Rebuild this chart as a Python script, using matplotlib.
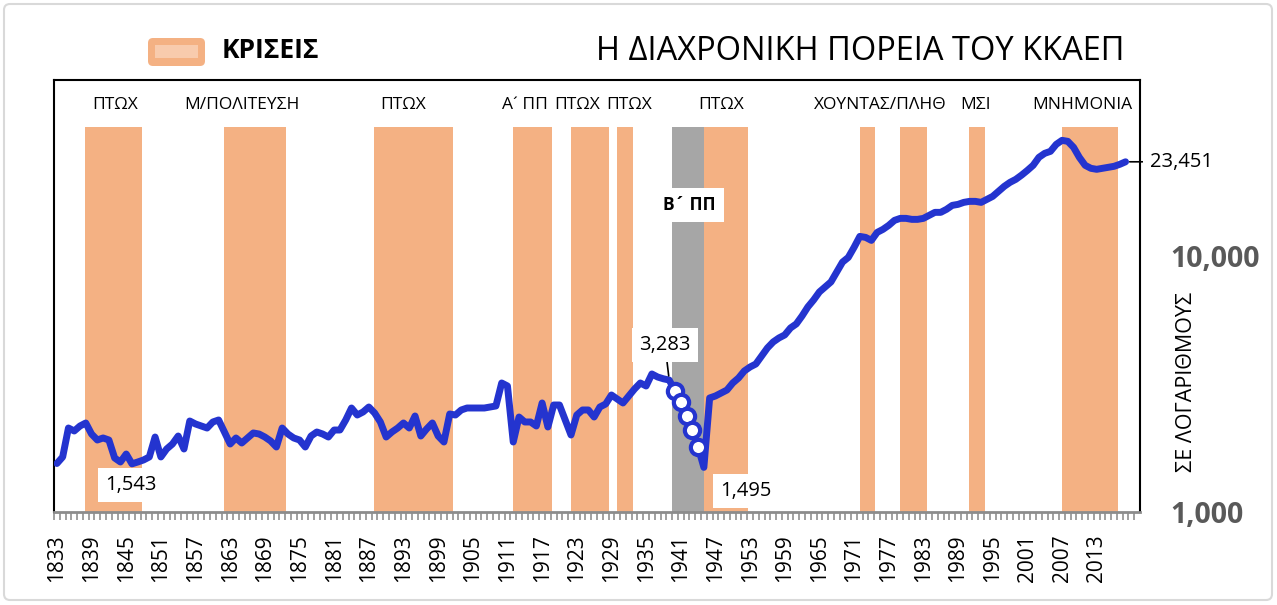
import matplotlib
matplotlib.use('Agg')
import matplotlib.pyplot as plt
import matplotlib.transforms as mtransforms
from matplotlib.patches import FancyBboxPatch
from matplotlib.ticker import FixedLocator, FuncFormatter

plt.rcParams['font.family'] = ['Open Sans', 'DejaVu Sans']

# ---------------- data ----------------
years = list(range(1833, 2019))
values = [
    1548, 1642, 2131, 2075, 2170, 2230, 2019, 1913, 1948, 1913,   # 1833-1842
    1627, 1569, 1686, 1543, 1569, 1598, 1642, 1965, 1642, 1764,   # 1843-1852
    1845, 1983, 1764, 2270, 2210, 2170, 2131, 2250, 2291, 2056,   # 1853-1862
    1845, 1948, 1862, 1948, 2038, 2019, 1965, 1896, 1796, 2131,   # 1863-1872
    2019, 1948, 1913, 1796, 1983, 2056, 2019, 1965, 2093, 2093,   # 1873-1882
    2291, 2552, 2396, 2462, 2575, 2440, 2250, 1965, 2056, 2131,   # 1883-1892
    2230, 2131, 2375, 1983, 2112, 2230, 1983, 1879, 2418, 2396,   # 1893-1902
    2507, 2552, 2552, 2552, 2552, 2575, 2599, 3197, 3112, 1879,   # 1903-1912
    2353, 2250, 2250, 2170, 2670, 2151, 2622, 2622, 2291, 2001,   # 1913-1922
    2396, 2507, 2507, 2353, 2575, 2646, 2869, 2768, 2670, 2844,   # 1923-1932
    3029, 3197, 3112, 3467, 3374, 3320, 3283, 2975, 2694, 2375,   # 1933-1942
    2093, 1796, 1495, 2793, 2844, 2921, 3001, 3197, 3344, 3562,   # 1943-1952
    3693, 3794, 4078, 4383, 4627, 4797, 4929, 5249, 5443, 5849,   # 1953-1962
    6343, 6755, 7260, 7597, 7947, 8697, 9500, 9910, 10850, 11975, # 1963-1972
    11868, 11553, 12416, 12757, 13226, 13836, 14088, 14088, 13961, 13961,  # 1973-1982
    14088, 14475, 14872, 14872, 15280, 15838, 15981, 16272, 16419, 16419,  # 1983-1992
    16272, 16718, 17174, 17967, 18796, 19487, 20024, 20800, 21700, 22719,  # 1993-2002
    24410, 25306, 25770, 27443, 28450, 28195, 26711, 24410, 22719, 22113,  # 2003-2012
    21915, 22113, 22313, 22515, 22924, 23451,                              # 2013-2018
]

crisis_start = [1838, 1862, 1888, 1912, 1922, 1930, 1945, 1972, 1979, 1991, 2007]
crisis_end = [1847, 1872, 1901, 1918, 1928, 1932, 1952, 1974, 1983, 1993, 2016]
crisis_top = 32000

war_start, war_end = 1940, 1944
war_label = 'Β´ ΠΠ'

crisis_labels = ['ΠΤΩΧ', 'Μ/ΠΟΛΙΤΕΥΣΗ', 'ΠΤΩΧ', 'Α´ ΠΠ', 'ΠΤΩΧ', 'ΠΤΩΧ',
                 'ΠΤΩΧ', 'ΧΟΥΝΤΑΣ/ΠΛΗΘ', 'ΜΣΙ', 'ΜΝΗΜΟΝΙΑ']
crisis_label_x = [1843, 1865, 1893, 1914, 1923, 1932, 1948, 1975.5, 1992, 2010.5]

marker_years = [1940, 1941, 1942, 1943, 1944]
labelled_years = [1846, 1939, 1945, 2018]

tick_label_years = list(range(1833, 2014, 6))
y_ticks = [1000, 10000]

title = 'Η ΔΙΑΧΡΟΝΙΚΗ ΠΟΡΕΙΑ ΤΟΥ ΚΚΑΕΠ'
legend_label = 'ΚΡΙΣΕΙΣ'
y_axis_title = 'ΣΕ ΛΟΓΑΡΙΘΜΟΥΣ'

# ---------------- styles ----------------
BLUE = '#2434CF'
ORANGE = '#F4B183'
ORANGE_LIGHT = '#F8CBAD'
GREY = '#A6A6A6'
BAR_SHIFT = 0.3     # soft-edge look of the crisis columns
BAR_TRIM = 0.3
W, H = 1277, 605

fig = plt.figure(figsize=(W / 100, H / 100), dpi=100)
fig.patch.set_facecolor('white')

# overlay in pixel coordinates for border / title / legend
ov = fig.add_axes([0, 0, 1, 1], zorder=0)
ov.set_xlim(0, W)
ov.set_ylim(H, 0)
ov.axis('off')
ov.add_patch(FancyBboxPatch((4, 4), W - 9, H - 9,
                            boxstyle='round,pad=0,rounding_size=6',
                            fc='white', ec='#D9D9D9', lw=1.5))

ax = fig.add_axes([54 / W, (H - 512) / H, (1140 - 54) / W, (512 - 80) / H], zorder=2)
ax.set_yscale('log')
ax.set_xlim(1832.5, 2020.5)
ax.set_ylim(1000, 49000)
ymin = 1000

# crisis bars
for s, e in zip(crisis_start, crisis_end):
    ax.bar((s + e) / 2 + BAR_SHIFT, crisis_top - ymin, width=(e - s + 1) - BAR_TRIM,
           bottom=ymin, color=ORANGE, lw=0, zorder=1)
war_left = war_start - 0.5
war_right = war_end + 0.5 + BAR_SHIFT + BAR_TRIM / 2
ax.bar((war_left + war_right) / 2, crisis_top - ymin, width=war_right - war_left,
       bottom=ymin, color=GREY, lw=0, zorder=0.9)

# crisis labels
trans = mtransforms.blended_transform_factory(ax.transData, ax.transAxes)
for lab, xl in zip(crisis_labels, crisis_label_x):
    ax.text(xl, 0.942, lab, transform=trans, ha='center', va='center',
            fontsize=12.5, color='black', zorder=5)
ax.text((war_start + war_end) / 2 + 0.5, 0.71, war_label, transform=trans,
        ha='center', va='center', fontsize=12.5, fontweight='bold', zorder=6,
        bbox=dict(boxstyle='square,pad=0.45', fc='white', ec='none'))

# line
ax.plot(years, values, color=BLUE, lw=5, solid_capstyle='round',
        solid_joinstyle='round', zorder=3)
vmap = dict(zip(years, values))
ax.plot(marker_years, [vmap[y] for y in marker_years], 'o', ms=11,
        mfc='white', mec=BLUE, mew=3, zorder=4)

# data labels
offsets = {1846: (-1, -15), 1939: (-3, 25), 1945: (30, -17), 2018: (40, 0)}
for yr in labelled_years:
    dx, dy = offsets[yr]
    kw = {}
    if yr in (1939, 2018):
        kw['arrowprops'] = dict(arrowstyle='-', color='black', lw=1.2,
                                shrinkA=0, shrinkB=3)
    ax.annotate(f'{vmap[yr]:,}', xy=(yr, vmap[yr]), xytext=(dx, dy),
                textcoords='offset points', ha='center', va='center',
                fontsize=14.5, color='black', zorder=7, annotation_clip=False,
                bbox=dict(boxstyle='square,pad=0.35', fc='white', ec='none'),
                **kw)

# axes styling
for side in ['left', 'top', 'right']:
    ax.spines[side].set_color('black')
    ax.spines[side].set_linewidth(1.5)
ax.spines['bottom'].set_color('#8C8C8C')
ax.spines['bottom'].set_linewidth(2)
for sp in ax.spines.values():
    sp.set_zorder(2.5)

ax.xaxis.set_major_locator(FixedLocator(tick_label_years))
ax.xaxis.set_minor_locator(FixedLocator([y - 0.5 for y in range(1833, 2021)]))
ax.tick_params(axis='x', which='major', length=0, pad=16, labelsize=15,
               labelrotation=90)
ax.tick_params(axis='x', which='minor', length=6, width=1.3, color='#999999',
               direction='out')

ax.yaxis.tick_right()
ax.yaxis.set_major_locator(FixedLocator(y_ticks))
ax.yaxis.set_minor_locator(FixedLocator([]))
ax.yaxis.set_major_formatter(FuncFormatter(lambda v, p: f'{v:,.0f}'))
ax.tick_params(axis='y', which='major', length=0, pad=22, labelsize=20.5,
               labelcolor='#595959')
for t in ax.get_yticklabels():
    t.set_fontweight('bold')
ax.tick_params(axis='y', which='minor', length=0)

# title, legend, y label
ov.text(1125, 52, title, ha='right', va='center', fontsize=23.5, color='black')
ov.add_patch(FancyBboxPatch((148, 38), 57, 28, boxstyle='round,pad=0,rounding_size=5',
                            fc=ORANGE, ec='none'))
ov.add_patch(FancyBboxPatch((155, 45), 43, 13, boxstyle='square,pad=0',
                            fc=ORANGE_LIGHT, ec='none'))
ov.text(222, 51, legend_label, ha='left', va='center', fontsize=19,
        fontweight='bold', color='black')
ov.text(1186, 382, y_axis_title, ha='center', va='center', rotation=90,
        fontsize=15.5, color='black')

fig.savefig('out.png', dpi=100, facecolor='white')
